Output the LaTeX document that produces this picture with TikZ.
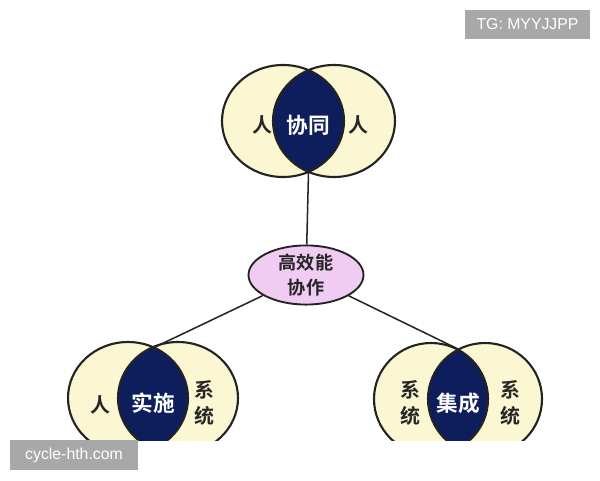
\documentclass[tikz,border=0pt]{standalone}
\usepackage{fontspec}
\setsansfont{Liberation Sans}
\newfontfamily\cjk{Noto Sans CJK SC Bold}
\newfontfamily\cjkbold{Noto Sans CJK SC Bold}
\usetikzlibrary{shapes.geometric, positioning}

\definecolor{cream}{RGB}{250,247,210}
\definecolor{navy}{RGB}{14,30,92}
\definecolor{lilac}{RGB}{240,204,242}
\definecolor{ink}{RGB}{35,35,35}
\definecolor{markgray}{RGB}{168,168,168}

\tikzset{
  ring/.style={draw=ink, line width=1.8pt},
  link/.style={draw=ink, line width=1.3pt},
  side/.style={font=\cjk\fontsize{17}{19}\selectfont, text=black!85, align=center, inner sep=0pt},
  core/.style={font=\cjkbold\fontsize{18.5}{20}\selectfont, text=white, inner sep=0pt},
  tagbox/.style={fill=markgray, text=white, font=\sffamily\fontsize{13.5}{15}\selectfont, inner sep=0pt}
}

\begin{document}
\begin{tikzpicture}[x=0.03cm, y=-0.03cm]
\useasboundingbox (0,0) rectangle (600,480);

% Top pair
\fill[cream] (283,121) ellipse [x radius=61, y radius=56];
\fill[cream] (334,121) ellipse [x radius=61, y radius=56];
\begin{scope}
  \clip (283,121) ellipse [x radius=61, y radius=56];
  \fill[navy] (334,121) ellipse [x radius=61, y radius=56];
\end{scope}
\draw[ring] (283,121) ellipse [x radius=61, y radius=56];
\draw[ring] (334,121) ellipse [x radius=61, y radius=56];
\coordinate (topbot) at (308.5,172);
\node[side] (tl) at (262,125) {人};
\node[core] (tc) at (308,125) {协同};
\node[side] (tr) at (358,125) {人};

% Bottom pairs, cut at the bottom edge
\begin{scope}
  \clip (0,0) rectangle (600,440);
  % left
  \fill[cream] (128,398) ellipse [x radius=60, y radius=56];
  \fill[cream] (178,398) ellipse [x radius=60, y radius=56];
  \begin{scope}
    \clip (128,398) ellipse [x radius=60, y radius=56];
    \fill[navy] (178,398) ellipse [x radius=60, y radius=56];
  \end{scope}
  \draw[ring] (128,398) ellipse [x radius=60, y radius=56];
  \draw[ring] (178,398) ellipse [x radius=60, y radius=56];
  % right
  \fill[cream] (431,399) ellipse [x radius=57, y radius=56];
  \fill[cream] (485,399) ellipse [x radius=57, y radius=56];
  \begin{scope}
    \clip (431,399) ellipse [x radius=57, y radius=56];
    \fill[navy] (485,399) ellipse [x radius=57, y radius=56];
  \end{scope}
  \draw[ring] (431,399) ellipse [x radius=57, y radius=56];
  \draw[ring] (485,399) ellipse [x radius=57, y radius=56];
\end{scope}
\coordinate (ltop) at (153,348);
\coordinate (rtop) at (458,349);

\node[side] (bl1) at (100,405) {人};
\node[core] (bl2) at (153,403) {实施};
\node[side] (bl3) at (204,403) {系\\[3pt]统};

\node[side] (br1) at (410,403) {系\\[3pt]统};
\node[core] (br2) at (458,403) {集成};
\node[side] (br3) at (510,403) {系\\[3pt]统};

% Middle
\node[draw=ink, line width=1.6pt, fill=lilac, ellipse, minimum width=3.45cm, minimum height=1.72cm,
      font=\cjk\fontsize{15.5}{21}\selectfont, text=black!85, align=center, inner sep=0pt] (mid) at (306,275) {高效能\\协作};

\draw[link] (topbot) -- (mid);
\draw[link] (mid) -- (ltop);
\draw[link] (mid) -- (rtop);

% Marks
\node[tagbox, minimum width=3.84cm, minimum height=0.9cm] (markb) at (74,455) {cycle-hth.com};
\node[tagbox, minimum width=3.75cm, minimum height=0.87cm] (markt) at (527.5,24.5) {TG: MYYJJPP};
\end{tikzpicture}
\end{document}
